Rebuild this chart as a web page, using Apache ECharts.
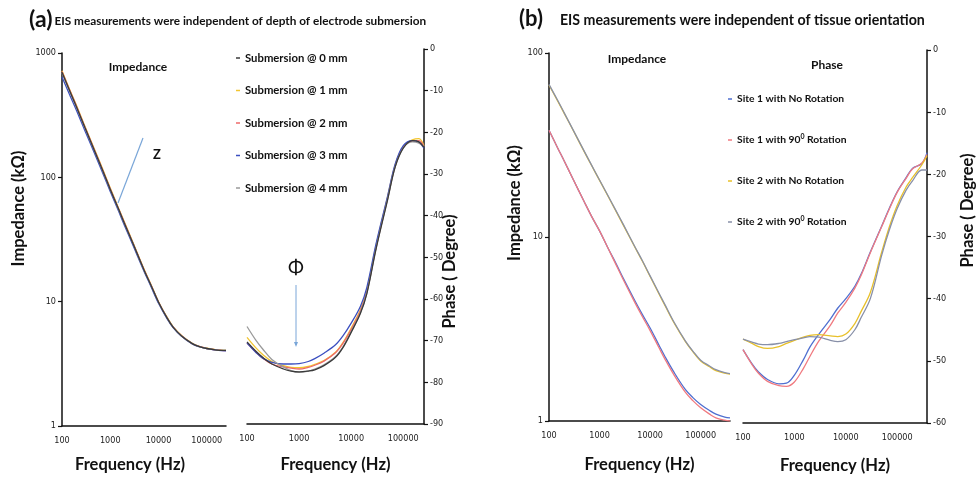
<!DOCTYPE html>
<html>
<head>
<meta charset="utf-8">
<title>EIS measurements</title>
<script src="https://cdn.jsdelivr.net/npm/echarts@6.0.0/dist/echarts.min.js"></script>
<style>
  html, body { margin: 0; padding: 0; background: #fff; }
  #chart { width: 979px; height: 479px; }
</style>
</head>
<body>
<div id="chart"></div>
<script>
// ---- data ----
var freqA = [100, 150, 200, 300, 500, 700, 1000, 1500, 2000, 3000, 5000, 7000, 10000, 15000, 20000, 30000, 50000, 70000, 100000, 150000, 200000, 250000];
var freqB = [100, 150, 200, 300, 500, 700, 1000, 1500, 2000, 3000, 5000, 7000, 10000, 15000, 20000, 30000, 50000, 70000, 100000, 150000, 200000, 300000, 380000];

var namesA = ['Submersion @ 0 mm', 'Submersion @ 1 mm', 'Submersion @ 2 mm', 'Submersion @ 3 mm', 'Submersion @ 4 mm'];
var namesB = ['Site 1 with No Rotation', 'Site 1 with 90° Rotation', 'Site 2 with No Rotation', 'Site 2 with 90° Rotation'];

// (a) impedance, kOhm
var zA0 = [700, 478, 368, 250, 155, 113, 80, 55, 42, 29, 18, 13.5, 9.9, 7.4, 6.25, 5.3, 4.6, 4.35, 4.2, 4.1, 4.05, 4.05];
var zA1 = [720, 490, 378, 256, 159, 116, 82, 56, 43, 29.5, 18.3, 13.7, 10, 7.5, 6.3, 5.35, 4.62, 4.37, 4.22, 4.12, 4.07, 4.05];
var zA2 = [710, 485, 373, 253, 157, 114, 81, 55.5, 42.5, 29.2, 18.1, 13.6, 9.95, 7.45, 6.27, 5.32, 4.6, 4.36, 4.2, 4.1, 4.06, 4.04];
var zA3 = [640, 445, 345, 236, 148, 108, 77, 53, 40.5, 28, 17.6, 13.2, 9.7, 7.3, 6.2, 5.28, 4.58, 4.34, 4.19, 4.09, 4.04, 4.03];
var zA4 = [690, 472, 364, 248, 154, 112, 79.5, 54.6, 41.8, 28.9, 17.9, 13.5, 9.88, 7.4, 6.24, 5.3, 4.6, 4.35, 4.2, 4.1, 4.05, 4.05];

// (a) phase, degree
var pA0 = [-70.3, -72.6, -74, -75.6, -76.8, -77.3, -77.5, -77.3, -77, -76, -74, -71.6, -68, -63.5, -58.7, -48, -36.2, -28.3, -23.8, -22, -22.3, -23.6];
var pA1 = [-69.2, -71.8, -73.3, -75, -76, -76.4, -76.5, -76.2, -75.7, -74.8, -72.8, -70.4, -67, -62.6, -57.8, -47.2, -35.5, -27.8, -23.4, -21.8, -21.5, -23.2];
var pA2 = [-70.5, -72.8, -74.2, -75.6, -76.3, -76.6, -76.8, -76.4, -75.9, -74.9, -72.9, -70.6, -67.3, -62.9, -58.2, -47.6, -35.8, -28, -23.5, -22.1, -22, -23.4];
var pA3 = [-70.6, -72.9, -74.2, -75.2, -75.6, -75.6, -75.5, -75, -74.3, -73, -71, -68.8, -65.8, -61.8, -57.2, -46.8, -35.3, -27.6, -23.2, -22, -22.4, -23.8];
var pA4 = [-66.6, -70, -72, -74.5, -76.3, -77.2, -77.6, -77.3, -76.8, -75.8, -73.8, -71.4, -67.8, -63.3, -58.5, -47.8, -36, -28.2, -23.7, -22.3, -22.6, -23.4];

// (b) impedance, kOhm
var zB0 = [38, 30.3, 25.9, 20.6, 15.5, 12.9, 10.8, 8.6, 7.4, 5.9, 4.5, 3.8, 3.2, 2.58, 2.22, 1.83, 1.48, 1.34, 1.23, 1.14, 1.09, 1.05, 1.04];
var zB1 = [38, 30.3, 25.9, 20.6, 15.5, 12.9, 10.8, 8.6, 7.3, 5.8, 4.4, 3.7, 3.1, 2.5, 2.15, 1.77, 1.43, 1.29, 1.18, 1.09, 1.04, 1.01, 1.0];
var zB2 = [67, 54.5, 47, 38, 29, 24.4, 20.3, 16.5, 14.2, 11.5, 8.8, 7.4, 6.1, 4.9, 4.2, 3.4, 2.7, 2.38, 2.12, 1.97, 1.88, 1.82, 1.8];
var zB3 = [67.5, 55, 47.3, 38.2, 29.2, 24.5, 20.4, 16.6, 14.3, 11.6, 8.85, 7.45, 6.15, 4.95, 4.25, 3.43, 2.72, 2.4, 2.14, 1.99, 1.9, 1.83, 1.81];

// (b) phase, degree
var pB0 = [-48.2, -50.5, -51.8, -53, -53.7, -53.6, -52.3, -49.8, -47.8, -45.7, -43.3, -41.5, -40, -38, -36, -32.5, -28.3, -25.5, -22.8, -20.5, -19, -18.3, -16.5];
var pB1 = [-48.2, -50.6, -52, -53.3, -54, -54.1, -53.4, -51.2, -49.3, -46.8, -44.3, -42.3, -40.6, -38.3, -36.2, -32.6, -28.4, -25.6, -22.9, -20.6, -19.1, -18.2, -16.8];
var pB2 = [-46.5, -47.2, -47.7, -48, -47.7, -47.2, -46.7, -46.2, -45.9, -45.8, -46, -46.1, -45.7, -44, -42, -39, -32.5, -28.5, -25, -22, -20.5, -18.5, -17];
var pB3 = [-46.5, -47, -47.3, -47.4, -47.2, -46.9, -46.6, -46.3, -46.1, -46.2, -46.7, -46.9, -46.6, -45, -43, -40, -33, -29, -25.5, -22.5, -21, -19.3, -19.3];

var colorsA = ['#3a3a3a', '#f2c530', '#ee6a6a', '#3b4fc0', '#9a9a9a'];
var colorsB = ['#4f6fd0', '#f07a80', '#e8c02a', '#8890a8'];

// ---- styling ----
var NARROW = "'Liberation Sans Narrow', 'DejaVu Sans Condensed', Roboto, sans-serif";
var BOLD = "Lato, 'Open Sans', sans-serif";
var INK = '#111';

function decadeLabel(v) {
  var l = Math.log10(v);
  return Math.abs(l - Math.round(l)) < 1e-6 ? String(Math.round(v)) : '';
}

function nameStyle(pad) {
  return { fontFamily: BOLD, fontWeight: 'bold', fontSize: 16.5, color: INK, padding: pad };
}

function freqAxis(grid, max, gap, pad) {
  return {
    type: 'log', logBase: 10, gridIndex: grid, min: 100, max: max,
    name: 'Frequency (Hz)', nameLocation: 'middle', nameGap: gap, nameTextStyle: nameStyle(pad),
    axisLine: { onZero: false, lineStyle: { color: INK, width: 1.5 } },
    axisTick: { show: false },
    axisLabel: { formatter: decadeLabel, fontFamily: NARROW, fontSize: 9, color: '#222', margin: 10, showMaxLabel: false },
    splitLine: { show: false }
  };
}

function zAxis(grid, max, gap, pad) {
  return {
    type: 'log', logBase: 10, gridIndex: grid, min: 1, max: max,
    name: 'Impedance (kΩ)', nameLocation: 'middle', nameGap: gap, nameRotate: 90, nameTextStyle: nameStyle(pad),
    axisLine: { onZero: false, lineStyle: { color: INK, width: 1.5 } },
    axisTick: { show: true, length: 4, lineStyle: { color: INK, width: 1.2 } },
    axisLabel: { formatter: decadeLabel, fontFamily: NARROW, fontSize: 9, color: '#222', margin: 6 },
    splitLine: { show: false }
  };
}

function phaseAxis(grid, min, gap, pad) {
  return {
    type: 'value', gridIndex: grid, position: 'right', min: min, max: 0, interval: 10,
    name: 'Phase ( Degree)', nameLocation: 'middle', nameGap: gap, nameRotate: 90, nameTextStyle: nameStyle(pad),
    nameMoveOverlap: false,
    axisLine: { onZero: false, lineStyle: { color: INK, width: 1.5 } },
    axisTick: { show: true, length: 4, lineStyle: { color: INK, width: 1.2 } },
    axisLabel: { fontFamily: NARROW, fontSize: 9, color: '#222', margin: 6 },
    splitLine: { show: false }
  };
}

function line(name, color, xs, ys, ax, z) {
  return {
    name: name, type: 'line', xAxisIndex: ax, yAxisIndex: ax,
    data: xs.map(function (f, i) { return [f, ys[i]]; }),
    smooth: 0.35, symbol: 'none', showSymbol: false,
    lineStyle: { color: color, width: 1.3 }, itemStyle: { color: color },
    z: z, animation: false
  };
}

var series = [];
[zA0, zA1, zA2, zA3, zA4].forEach(function (d, i) { series.push(line(namesA[i], colorsA[i], freqA, d, 0, i === 0 ? 8 : 3 + i)); });
[pA0, pA1, pA2, pA3, pA4].forEach(function (d, i) { series.push(line(namesA[i], colorsA[i], freqA, d, 1, i === 0 ? 8 : 3 + i)); });
[zB0, zB1, zB2, zB3].forEach(function (d, i) { series.push(line(namesB[i], colorsB[i], freqB, d, 2, 3 + i)); });
[pB0, pB1, pB2, pB3].forEach(function (d, i) { series.push(line(namesB[i], colorsB[i], freqB, d, 3, 3 + i)); });

var chart = echarts.init(document.getElementById('chart'), null, { renderer: 'canvas' });
chart.setOption({
  backgroundColor: '#fff',
  animation: false,
  title: [
    {
      left: 24, top: 3,
      text: '{p|(a)}{t|EIS measurements were independent of depth of electrode submersion}',
      textStyle: { rich: {
        p: { fontFamily: BOLD, fontSize: 23, color: INK },
        t: { fontFamily: BOLD, fontWeight: 'bold', fontSize: 11.8, color: INK, padding: [3, 0, 0, 2] }
      } }
    },
    {
      left: 514, top: 3,
      text: '{p|(b)}{t|EIS measurements were independent of tissue orientation}',
      textStyle: { rich: {
        p: { fontFamily: BOLD, fontWeight: 'bold', fontSize: 22, color: INK },
        t: { fontFamily: BOLD, fontWeight: 'bold', fontSize: 14.2, color: INK, padding: [2, 0, 0, 17] }
      } }
    }
  ],
  grid: [
    { left: 62, top: 53, width: 164, height: 373 },
    { left: 247, top: 49, width: 177, height: 375 },
    { left: 549, top: 53, width: 181, height: 368 },
    { left: 743, top: 50, width: 184, height: 373 }
  ],
  xAxis: [
    freqAxis(0, 250000, 30, [0, 28, 0, 0]),
    freqAxis(1, 250000, 32, 0),
    freqAxis(2, 380000, 35, 0),
    freqAxis(3, 380000, 34, 0)
  ],
  yAxis: [
    zAxis(0, 1000, 35, [0, 0, 0, 62]),
    phaseAxis(1, -90, 17, [0, 70, 0, 0]),
    zAxis(2, 100, 23, [0, 0, 0, 68]),
    phaseAxis(3, -60, 32, [0, 0, 0, 52])
  ],
  legend: [
    {
      data: namesA, orient: 'vertical', left: 231, top: 46, itemGap: 18.5,
      icon: 'rect', itemWidth: 4, itemHeight: 1.5, selectedMode: false,
      textStyle: { fontFamily: BOLD, fontWeight: 'bold', fontSize: 11.3, color: INK, lineHeight: 14 }
    },
    {
      data: namesB, orient: 'vertical', left: 723, top: 87, itemGap: 27,
      icon: 'rect', itemWidth: 4, itemHeight: 1.5, selectedMode: false,
      formatter: function (n) { return n.replace('°', '{s|0}'); },
      textStyle: { fontFamily: BOLD, fontWeight: 'bold', fontSize: 10.3, color: INK, lineHeight: 14, rich: {
        s: { fontFamily: BOLD, fontWeight: 'bold', fontSize: 7, color: INK, verticalAlign: 'top', lineHeight: 8 }
      } }
    }
  ],
  graphic: [
    { type: 'text', x: 138, y: 67, style: { text: 'Impedance', fill: INK, font: 'bold 12px ' + BOLD, align: 'center', verticalAlign: 'middle' } },
    { type: 'text', x: 157, y: 155, style: { text: 'Z', fill: INK, font: 'bold 13px ' + BOLD, align: 'center', verticalAlign: 'middle' } },
    { type: 'line', shape: { x1: 143, y1: 138, x2: 118, y2: 203 }, style: { stroke: '#7aa6d8', lineWidth: 1.2 } },
    { type: 'text', x: 296, y: 268, style: { text: 'Φ', fill: INK, font: '19px ' + BOLD, align: 'center', verticalAlign: 'middle' } },
    { type: 'line', shape: { x1: 296, y1: 285, x2: 296, y2: 345 }, style: { stroke: '#7aa6d8', lineWidth: 1 } },
    { type: 'polygon', shape: { points: [[294, 342], [298, 342], [296, 347]] }, style: { fill: '#7aa6d8' } },
    { type: 'text', x: 637, y: 59, style: { text: 'Impedance', fill: INK, font: 'bold 12px ' + BOLD, align: 'center', verticalAlign: 'middle' } },
    { type: 'text', x: 827, y: 65, style: { text: 'Phase', fill: INK, font: 'bold 12px ' + BOLD, align: 'center', verticalAlign: 'middle' } }
  ],
  series: series
});
</script>
</body>
</html>
